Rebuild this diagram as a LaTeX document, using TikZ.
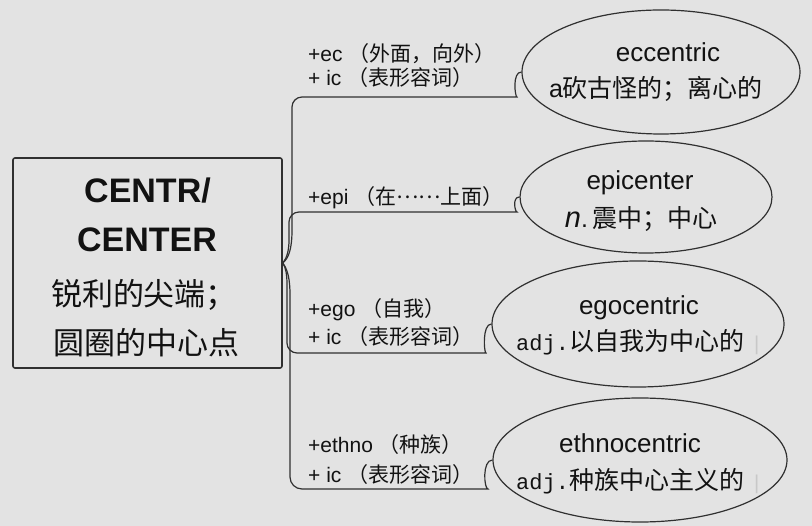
\documentclass[tikz,border=0pt]{standalone}
\usepackage{fontspec}
\setmainfont{Liberation Sans}
\newfontfamily\cjk{Noto Sans CJK SC}
\newfontfamily\monof{Liberation Mono}
\usetikzlibrary{shapes.geometric}
\definecolor{bg}{RGB}{227,227,227}
\definecolor{ln}{RGB}{48,48,48}
\definecolor{tx}{RGB}{18,18,18}
\definecolor{faintbar}{RGB}{200,200,200}
\newcommand\zh[1]{{\cjk #1}}
\begin{document}
\begin{tikzpicture}[x=1pt,y=-1pt,
  conn/.style={draw=ln, line width=1.2pt},
  rootbox/.style={draw=ln, line width=1.6pt, rectangle, rounded corners=2pt, minimum width=269pt, minimum height=210pt, inner sep=0},
  oval/.style={ellipse, draw=ln, line width=1.2pt, inner sep=0},
  lbl/.style={anchor=base west, inner sep=0, text=tx, font=\fontsize{21}{21}\selectfont},
  word/.style={anchor=base, inner sep=0, text=tx, font=\fontsize{26}{26}\selectfont},
  mean/.style={anchor=base, inner sep=0, text=tx, font=\fontsize{25}{25}\selectfont},
  head/.style={anchor=base, inner sep=0, text=tx, font=\bfseries\fontsize{34}{34}\selectfont},
  headzh/.style={inner sep=0, text=tx, font=\cjk\fontsize{31}{31}\selectfont}]
\fill[bg] (0,0) rectangle (812,526);
\useasboundingbox (0,0) rectangle (812,526);

% root
\node[rootbox] (root) at (147.5,263) {};
\node[head] (t1) at (147.5,203) {CENTR/};
\node[head] (t2) at (147,252) {CENTER};
\node[headzh] (t3) at (144,295) {锐利的尖端；};
\node[headzh] (t4) at (146.5,343) {圆圈的中心点};

% ellipses
\node[oval, minimum width=278pt, minimum height=124pt] (e1) at (661,72) {};
\node[oval, minimum width=252pt, minimum height=112pt] (e2) at (646,197) {};
\node[oval, minimum width=292pt, minimum height=126pt] (e3) at (638,324) {};
\node[oval, minimum width=294pt, minimum height=124pt] (e4) at (640,460) {};

\node[word] (w1) at (668,62) {eccentric};
\node[mean] (m1) at (656,98) {a\zh{砍古怪的；离心的}};
\node[word] (w2) at (640,190) {epicenter};
\node[mean] (m2) at (641,228) {{\fontsize{29}{29}\selectfont\itshape n}.\,\zh{震中；中心}};
\node[word] (w3) at (639,315) {egocentric};
\node[mean, anchor=base west] (m3) at (516,351) {{\monof\fontsize{22}{22}\selectfont adj.}\zh{以自我为中心的}\hspace{10pt}{\color{faintbar}\fontsize{20}{20}\selectfont|}};
\node[word] (w4) at (630,453) {ethnocentric};
\node[mean, anchor=base west] (m4) at (516,490) {{\monof\fontsize{22}{22}\selectfont adj.}\zh{种族中心主义的}\hspace{10pt}{\color{faintbar}\fontsize{20}{20}\selectfont|}};

% branch labels
\node[lbl] (b1a) at (308,62) {+ec \zh{（外面，向外）}};
\node[lbl] (b1b) at (308,86) {+ ic \zh{（表形容词）}};
\node[lbl] (b2) at (308,205) {+epi \zh{（在\raisebox{6pt}{……}上面）}};
\node[lbl] (b3a) at (308,317) {+ego \zh{（自我）}};
\node[lbl] (b3b) at (308,345) {+ ic \zh{（表形容词）}};
\node[lbl] (b4a) at (308,453) {+ethno \zh{（种族）}};
\node[lbl] (b4b) at (308,483) {+ ic \zh{（表形容词）}};

% connectors
\draw[conn] (root.east) .. controls (289,258) and (292,248) .. (292,230)
  [rounded corners=10pt] -- (292,97) -- (507,97)
  [sharp corners] .. controls (515,97) and (512,72) .. (e1.west);
\draw[conn] (root.east) .. controls (287,258) and (289,250) .. (289,240)
  [rounded corners=10pt] -- (289,212) -- (507,212)
  [sharp corners] .. controls (515,212) and (512,197) .. (e2.west);
\draw[conn] (root.east) .. controls (286,268) and (287,275) .. (287,285)
  [rounded corners=10pt] -- (287,353) -- (476,353)
  [sharp corners] .. controls (484,353) and (482,324) .. (e3.west);
\draw[conn] (root.east) .. controls (288,270) and (290,280) .. (290,295)
  [rounded corners=12pt] -- (290,489) -- (476,489)
  [sharp corners] .. controls (484,489) and (482,460) .. (e4.west);
\end{tikzpicture}
\end{document}
